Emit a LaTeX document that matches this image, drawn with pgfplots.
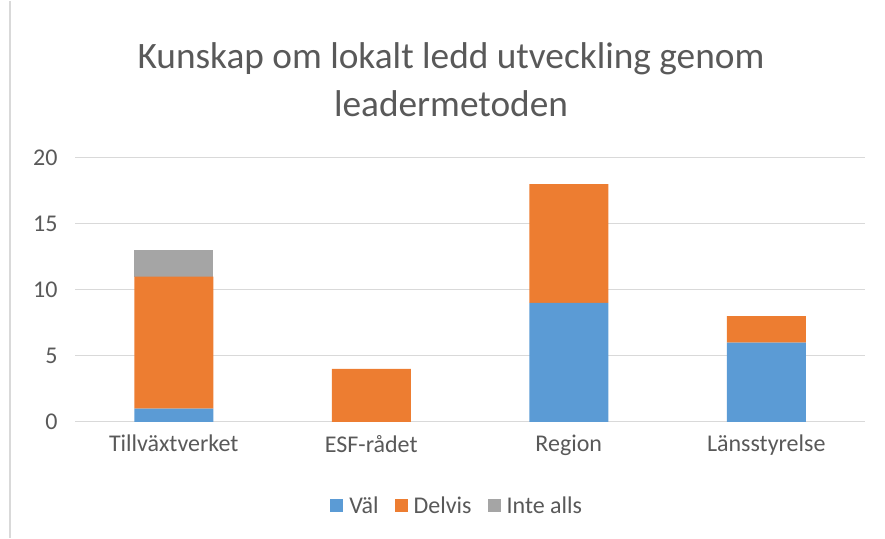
\documentclass[border=0pt]{standalone}
\usepackage{pgfplots}
\pgfplotsset{compat=1.18}
\usepackage{fontspec}
\setmainfont{Carlito}
\definecolor{valblue}{RGB}{91,155,213}
\definecolor{delorange}{RGB}{237,125,49}
\definecolor{integray}{RGB}{165,165,165}
\definecolor{gridgray}{RGB}{217,217,217}
\definecolor{txtgray}{RGB}{89,89,89}
\begin{document}
\begin{tikzpicture}[x=1pt,y=1pt]
\path (0,0) rectangle (885,537);
\draw[gridgray, line width=1.5pt] (10,0) -- (10,537);
\node[txtgray, font=\fontsize{37.3}{44}\selectfont] at (451,479) {Kunskap om lokalt ledd utveckling genom};
\node[txtgray, font=\fontsize{37.3}{44}\selectfont] at (451,434) {leadermetoden};
\begin{axis}[
    at={(75pt,116pt)}, anchor=south west,
    scale only axis,
    width=790pt, height=264pt,
    ybar stacked,
    bar width=79pt,
    xmin=-0.5, xmax=3.5,
    ymin=0, ymax=20,
    xtick={0,1,2,3},
    xticklabels={Tillväxtverket,ESF-rådet,Region,Länsstyrelse},
    ytick={0,5,10,15,20},
    ymajorgrids,
    grid style={gridgray, line width=1pt},
    axis line style={draw=none},
    major tick length=0pt,
    tick label style={txtgray, font=\fontsize{24}{28}\selectfont},
    /pgf/number format/assume math mode=true,
    yticklabel style={xshift=-14pt},
    xticklabel style={yshift=-10pt},
    legend style={at={(rel axis cs:0.475,-0.318)}, anchor=center, draw=none,
        legend columns=-1, font=\fontsize{24}{28}\selectfont, text=txtgray},
    legend image code/.code={\path (-14pt,0pt) (17pt,0pt);
        \fill[#1] (0pt,-6pt) rectangle (13pt,7pt);},
]
\addplot[fill=valblue, draw=none] coordinates {(0,1) (1,0) (2,9) (3,6)};
\addplot[fill=delorange, draw=none] coordinates {(0,10) (1,4) (2,9) (3,2)};
\addplot[fill=integray, draw=none] coordinates {(0,2) (1,0) (2,0) (3,0)};
\legend{Väl,Delvis,Inte alls}
\end{axis}
\end{tikzpicture}
\end{document}
